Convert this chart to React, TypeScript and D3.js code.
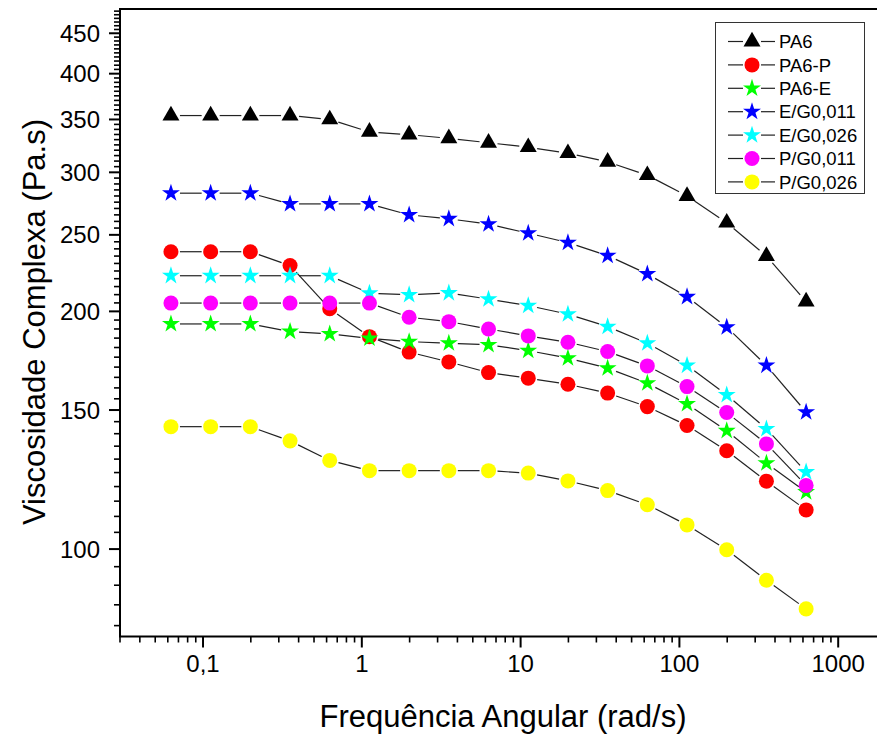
import React, { useEffect, useRef } from "react";
import * as d3 from "d3";

// angular frequency (rad/s)
const freq = [0.0628, 0.1117, 0.1986, 0.3532, 0.628, 1.117, 1.986, 3.532, 6.28, 11.17, 19.86, 35.32, 62.8, 111.7, 198.6, 353.2, 628];

// complex viscosity (Pa.s)
const pa6 = [354, 354, 354, 354, 350, 337.5, 334.8, 331.3, 327, 322.8, 317.2, 309.3, 297.5, 280, 259, 235, 205.8];
const pa6P = [238, 238, 238, 228.6, 201.5, 185.8, 177.6, 172.6, 167.3, 164.6, 161.7, 157.6, 151.5, 143.4, 133.2, 121.9, 112.1];
const pa6E = [192.8, 192.8, 192.8, 188.6, 187.3, 184.9, 183.1, 182.3, 181.4, 178.4, 174.5, 169.5, 162.2, 152.7, 141.2, 128.5, 118.1];
const eg011 = [282.3, 282.3, 282.3, 273.6, 273.6, 273.6, 265, 262, 257.9, 251.2, 244.4, 235.3, 223.1, 208.7, 191, 170.8, 149.1];
const eg026 = [221.9, 221.9, 221.9, 221.9, 221.9, 210.9, 209.9, 211, 207.3, 203.4, 198.4, 191.3, 182.3, 170.8, 156.8, 142, 125.2];
const pg011 = [204.9, 204.9, 204.9, 204.9, 204.9, 204.9, 196.6, 194.1, 190, 186.2, 182.8, 177.9, 170.6, 160.6, 148.9, 135.9, 120.4];
const pg026 = [142.9, 142.9, 142.9, 137.1, 129.5, 125.7, 125.7, 125.7, 125.7, 124.8, 122, 118.6, 113.8, 107.3, 99.8, 91.3, 84];

const seriesNames = ["PA6", "PA6-P", "PA6-E", "E/G0,011", "E/G0,026", "P/G0,011", "P/G0,026"];
const seriesValues = [pa6, pa6P, pa6E, eg011, eg026, pg011, pg026];
const seriesColors = ["#000000", "#ff0000", "#00ff00", "#0000ff", "#00ffff", "#ff00ff", "#ffff00"];
const seriesSymbols = ["triangle", "circle", "star", "star", "star", "circle", "circle"];

const xTicks = [0.1, 1, 10, 100, 1000];
const xTickLabels = ["0,1", "1", "10", "100", "1000"];
const yTicks = [100, 150, 200, 250, 300, 350, 400, 450];

const W = 877;
const H = 738;
const FONT = "'Liberation Sans', Arial, sans-serif";

const symbolFor = (kind) => {
  if (kind === "triangle") return d3.symbol(d3.symbolTriangle, 125);
  if (kind === "star") return d3.symbol(d3.symbolStar, 100);
  return d3.symbol(d3.symbolCircle, 177);
};

const Chart = () => {
  const svgRef = useRef(null);

  useEffect(() => {
    const svg = d3.select(svgRef.current);
    svg.selectAll("*").remove();

    const left = 120;
    const top = 9;
    const bottom = 636.5;
    const right = 886;

    const x = d3.scaleLog().domain([0.03, 2000]).range([left, right]);
    const y = d3.scaleLog().domain([77.5, 483]).range([bottom, top]);

    // minor ticks, y every 5
    const yMinor = d3.range(80, 481, 5).filter((v) => v % 50 !== 0);
    svg
      .append("g")
      .selectAll("line")
      .data(yMinor)
      .enter()
      .append("line")
      .attr("x1", left - 6)
      .attr("x2", left)
      .attr("y1", (d) => y(d))
      .attr("y2", (d) => y(d))
      .attr("stroke", "#000")
      .attr("stroke-width", 1.6);

    svg
      .append("g")
      .selectAll("line")
      .data(yTicks)
      .enter()
      .append("line")
      .attr("x1", left - 11)
      .attr("x2", left)
      .attr("y1", (d) => y(d))
      .attr("y2", (d) => y(d))
      .attr("stroke", "#000")
      .attr("stroke-width", 2);

    svg
      .append("g")
      .selectAll("text")
      .data(yTicks)
      .enter()
      .append("text")
      .attr("x", 100)
      .attr("y", (d) => y(d))
      .attr("dy", "0.36em")
      .attr("text-anchor", "end")
      .style("font-family", FONT)
      .style("font-size", "24px")
      .text((d) => d);

    // x minor ticks
    const xMinor = [];
    [0.01, 0.1, 1, 10, 100, 1000].forEach((dec) => {
      for (let k = 2; k <= 9; k++) {
        const v = dec * k;
        if (v >= 0.03 && v <= 2000) xMinor.push(v);
      }
    });
    svg
      .append("g")
      .selectAll("line")
      .data(xMinor)
      .enter()
      .append("line")
      .attr("x1", (d) => x(d))
      .attr("x2", (d) => x(d))
      .attr("y1", bottom)
      .attr("y2", bottom + 6)
      .attr("stroke", "#000")
      .attr("stroke-width", 1.6);

    svg
      .append("g")
      .selectAll("line")
      .data(xTicks)
      .enter()
      .append("line")
      .attr("x1", (d) => x(d))
      .attr("x2", (d) => x(d))
      .attr("y1", bottom)
      .attr("y2", bottom + 11)
      .attr("stroke", "#000")
      .attr("stroke-width", 2);

    svg
      .append("g")
      .selectAll("text")
      .data(xTicks)
      .enter()
      .append("text")
      .attr("x", (d) => x(d))
      .attr("y", 672)
      .attr("text-anchor", "middle")
      .style("font-family", FONT)
      .style("font-size", "24px")
      .text((d, i) => xTickLabels[i]);

    // frame
    svg
      .append("rect")
      .attr("x", left)
      .attr("y", top)
      .attr("width", right - left)
      .attr("height", bottom - top)
      .attr("fill", "none")
      .attr("stroke", "#000")
      .attr("stroke-width", 2);

    // axis titles
    svg
      .append("text")
      .attr("x", 503)
      .attr("y", 727)
      .attr("text-anchor", "middle")
      .style("font-family", FONT)
      .style("font-size", "31px")
      .text("Frequência Angular (rad/s)");

    svg
      .append("text")
      .attr("transform", "translate(45,322) rotate(-90)")
      .attr("text-anchor", "middle")
      .style("font-family", FONT)
      .style("font-size", "31px")
      .text("Viscosidade Complexa (Pa.s)");

    // series: connecting segments with a small gap, then symbols
    const gap = 9;
    seriesValues.forEach((vals, si) => {
      const g = svg.append("g");
      const pts = vals.map((v, i) => [x(freq[i]), y(v)]);
      const segs = d3.pairs(pts).map(([a, b]) => {
        const dx = b[0] - a[0];
        const dy = b[1] - a[1];
        const len = Math.hypot(dx, dy);
        const ux = dx / len;
        const uy = dy / len;
        return [a[0] + ux * gap, a[1] + uy * gap, b[0] - ux * gap, b[1] - uy * gap, len];
      });
      g.selectAll("line")
        .data(segs.filter((s) => s[4] > gap * 2))
        .enter()
        .append("line")
        .attr("x1", (s) => s[0])
        .attr("y1", (s) => s[1])
        .attr("x2", (s) => s[2])
        .attr("y2", (s) => s[3])
        .attr("stroke", "#222")
        .attr("stroke-width", 1.2);

      g.selectAll("path")
        .data(pts)
        .enter()
        .append("path")
        .attr("transform", (p) => `translate(${p[0]},${p[1]})`)
        .attr("d", symbolFor(seriesSymbols[si]))
        .attr("fill", seriesColors[si]);
    });

    // legend
    const lg = svg.append("g");
    lg.append("rect")
      .attr("x", 715.5)
      .attr("y", 22.5)
      .attr("width", 149)
      .attr("height", 171)
      .attr("fill", "#fff")
      .attr("stroke", "#333")
      .attr("stroke-width", 1);

    seriesNames.forEach((name, i) => {
      const ly = 41.5 + i * 23.4;
      lg.append("line")
        .attr("x1", 728)
        .attr("x2", 743)
        .attr("y1", ly)
        .attr("y2", ly)
        .attr("stroke", "#222")
        .attr("stroke-width", 1.2);
      lg.append("line")
        .attr("x1", 761)
        .attr("x2", 775)
        .attr("y1", ly)
        .attr("y2", ly)
        .attr("stroke", "#222")
        .attr("stroke-width", 1.2);
      lg.append("path")
        .attr("transform", `translate(752,${ly})`)
        .attr("d", symbolFor(seriesSymbols[i]))
        .attr("fill", seriesColors[i]);
      lg.append("text")
        .attr("x", 779)
        .attr("y", ly)
        .attr("dy", "0.36em")
        .style("font-family", FONT)
        .style("font-size", "18.5px")
        .text(name);
    });
  }, []);

  return (
    <svg
      ref={svgRef}
      width={W}
      height={H}
      style={{ position: "absolute", left: 0, top: 0, background: "#fff" }}
    ></svg>
  );
};

export default function App() {
  return <Chart />;
}
